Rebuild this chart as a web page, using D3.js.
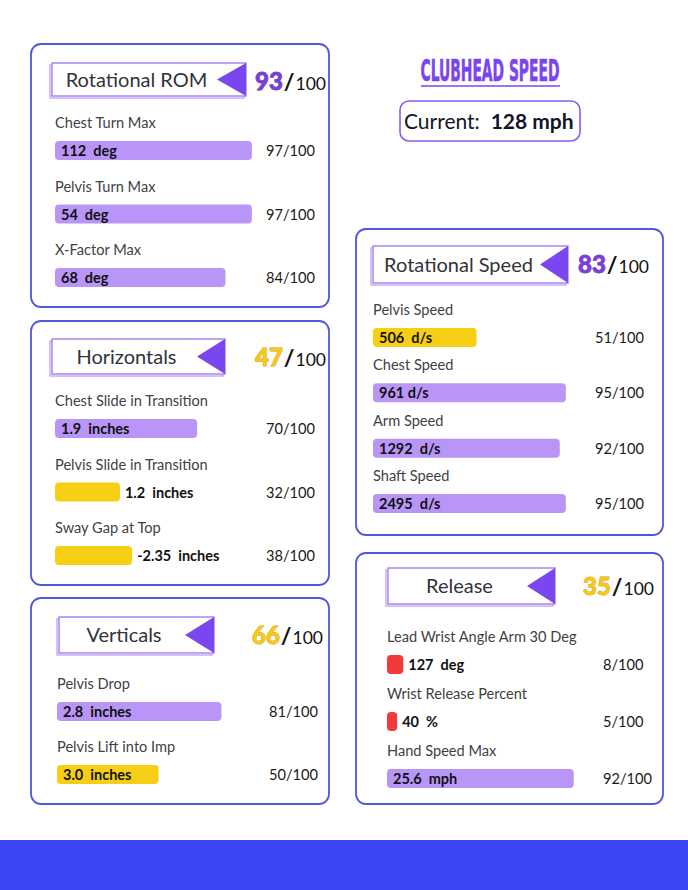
<!DOCTYPE html>
<html><head><meta charset="utf-8">
<script src="https://cdn.jsdelivr.net/npm/d3@7"></script>
<style>html,body{margin:0;padding:0;background:#fff;}svg{display:block;font-family:Lato,"Open Sans",sans-serif;}</style>
</head><body><svg id="c" width="688" height="890"></svg>
<script>
// ---- data ----
const panelTitles = ["Rotational ROM", "Horizontals", "Verticals", "Rotational Speed", "Release"];
const panelScores = [93, 47, 66, 83, 35];
const metricPanel = [0, 0, 0, 1, 1, 1, 2, 2, 3, 3, 3, 3, 4, 4, 4];
const metricLabels = ["Chest Turn Max", "Pelvis Turn Max", "X-Factor Max",
  "Chest Slide in Transition", "Pelvis Slide in Transition", "Sway Gap at Top",
  "Pelvis Drop", "Pelvis Lift into Imp",
  "Pelvis Speed", "Chest Speed", "Arm Speed", "Shaft Speed",
  "Lead Wrist Angle Arm 30 Deg", "Wrist Release Percent", "Hand Speed Max"];
const metricValues = ["112  deg", "54  deg", "68  deg",
  "1.9  inches", "1.2  inches", "-2.35  inches",
  "2.8  inches", "3.0  inches",
  "506  d/s", "961 d/s", "1292  d/s", "2495  d/s",
  "127  deg", "40  %", "25.6  mph"];
const metricScores = [97, 97, 84, 70, 32, 38, 81, 50, 51, 95, 92, 95, 8, 5, 92];
const clubheadTitle = "CLUBHEAD SPEED";
const clubheadLabel = "Current:";
const clubheadValue = "128 mph";
const scoreMax = 100;

// ---- layout ----
const layout = [
  {x:31, y:44, w:298, h:263, hx:52, hy:63, hw:194, hh:33, tri:29, sx:255, bx:55, sc:266, rows:[141,268]},
  {x:31, y:321, w:298, h:264, hx:52, hy:339, hw:173, hh:35, tri:28, sx:255, bx:55, sc:266, rows:[419,546]},
  {x:31, y:598, w:298, h:206, hx:59, hy:617, hw:155, hh:36, tri:29, sx:252, bx:57, sc:269, rows:[702,765]},
  {x:356, y:229, w:307, h:306, hx:373, hy:246, hw:195, hh:37, tri:28, sx:578, bx:373, sc:595, rows:[328,494]},
  {x:356, y:553, w:307, h:251, hx:388, hy:568, hw:167, hh:36, tri:28, sx:583, bx:387, sc:603, rows:[655,769]}
];

const svg = d3.select("#c");
const barScale = d3.scaleLinear().domain([0, scoreMax]).range([0, 203]);
const barColor = d3.scaleThreshold().domain([10, 60]).range(["#f23a3a", "#f6cf14", "#b995f7"]);
const headColor = d3.scaleThreshold().domain([70]).range(["#f5c91b", "#7b3fd6"]);
const headStroke = d3.scaleThreshold().domain([70]).range(["#d29a0a", "#6a32c4"]);

// bottom band
svg.append("rect").attr("x", 0).attr("y", 840).attr("width", 688).attr("height", 50).attr("fill", "#3c45f4");

// clubhead speed title (condensed via horizontal scale)
const tg = svg.append("g");
const tt = tg.append("text").attr("x", 0).attr("y", 0).attr("text-anchor", "middle")
  .style("font-family", "'Liberation Sans Narrow','DejaVu Sans Condensed',sans-serif")
  .style("font-weight", "bold").style("font-size", "30px").attr("fill", "#7b45ee")
  .attr("stroke", "#7b45ee").attr("stroke-width", 0.6)
  .text(clubheadTitle);
const ttw = tt.node().getComputedTextLength();
tg.attr("transform", `translate(490,81) scale(${139 / ttw},1)`);
svg.append("line").attr("x1", 421).attr("x2", 560).attr("y1", 86).attr("y2", 86)
  .attr("stroke", "#7b45ee").attr("stroke-width", 1.6);
svg.append("rect").attr("x", 400).attr("y", 101).attr("width", 180).attr("height", 40).attr("rx", 9)
  .attr("fill", "#fff").attr("stroke", "#8a5cf2").attr("stroke-width", 1.6);
const cur = svg.append("text").attr("x", 404).attr("y", 129).attr("fill", "#14142a").style("font-size", "21px").style("white-space", "pre");
cur.append("tspan").text(clubheadLabel + "  ");
cur.append("tspan").style("font-weight", "bold").text(clubheadValue);

// panels
panelTitles.forEach((title, i) => {
  const L = layout[i];
  const g = svg.append("g");
  g.append("rect").attr("x", L.x).attr("y", L.y).attr("width", L.w).attr("height", L.h).attr("rx", 10)
    .attr("fill", "#fff").attr("stroke", "#5057d9").attr("stroke-width", 1.8);
  // header box
  g.append("rect").attr("x", L.hx - 2).attr("y", L.hy + 2).attr("width", L.hw).attr("height", L.hh)
    .attr("fill", "#fff").attr("stroke", "#c2a8f6").attr("stroke-width", 1.4);
  g.append("rect").attr("x", L.hx).attr("y", L.hy).attr("width", L.hw).attr("height", L.hh)
    .attr("fill", "#fff").attr("stroke", "#a47cf2").attr("stroke-width", 1.4);
  const right = L.hx + L.hw;
  g.append("path").attr("d", `M${right - L.tri},${L.hy + L.hh / 2} L${right},${L.hy} L${right},${L.hy + L.hh} Z`)
    .attr("fill", "#7a46f0");
  g.append("text").attr("x", (L.hx + right - L.tri) / 2 + 2).attr("y", L.hy + L.hh / 2 + 7)
    .attr("text-anchor", "middle").style("font-size", "20px").attr("fill", "#333338").text(title);
  // header score
  const st = g.append("text").attr("x", L.sx).attr("y", L.hy + 27).style("white-space", "pre");
  st.append("tspan").text(panelScores[i]).style("font-size", "24px").style("font-weight", "900")
    .attr("fill", headColor(panelScores[i])).attr("stroke", headStroke(panelScores[i])).attr("stroke-width", 0.8)
    .style("paint-order", "stroke");
  st.append("tspan").text("/").style("font-size", "23px").style("font-weight", "bold").attr("fill", "#111").attr("dx", 1);
  st.append("tspan").text(String(scoreMax)).style("font-size", "17.5px").attr("fill", "#111").attr("dx", 1);

  // metrics
  const idx = metricPanel.map((p, k) => p === i ? k : -1).filter(k => k >= 0);
  const yScale = d3.scalePoint().domain(idx.map(k => metricLabels[k])).range(L.rows);
  idx.forEach(k => {
    const y = yScale(metricLabels[k]);
    const w = barScale(metricScores[k]);
    g.append("text").attr("x", L.bx).attr("y", y - 13).style("font-size", "14.6px").attr("fill", "#3f3f44")
      .text(metricLabels[k]);
    g.append("rect").attr("x", L.bx).attr("y", y).attr("width", w).attr("height", 19).attr("rx", 4)
      .attr("fill", barColor(metricScores[k]));
    const vt = g.append("text").attr("y", y + 15).style("font-size", "14.5px").style("font-weight", "bold")
      .style("white-space", "pre").attr("fill", "#111").text(metricValues[k]);
    const tw = vt.node().getComputedTextLength();
    vt.attr("x", (tw + 12 < w) ? L.bx + 6 : L.bx + w + 5);
    g.append("text").attr("x", L.sc).attr("y", y + 15).style("font-size", "14.6px").attr("fill", "#1a1a1a")
      .text(metricScores[k] + "/" + scoreMax);
  });
});
</script></body></html>
